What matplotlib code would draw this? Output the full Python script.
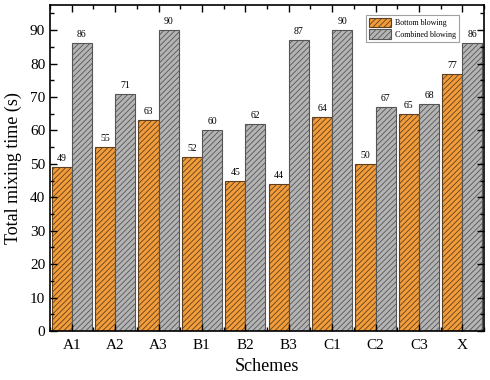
import matplotlib
matplotlib.use("Agg")
import matplotlib.pyplot as plt
import numpy as np
from matplotlib.ticker import MultipleLocator

schemes = ["A1", "A2", "A3", "B1", "B2", "B3", "C1", "C2", "C3", "X"]
bottom_blowing = [49, 55, 63, 52, 45, 44, 64, 50, 65, 77]
combined_blowing = [86, 71, 90, 60, 62, 87, 90, 67, 68, 86]

plt.rcParams['font.family'] = ['Liberation Serif', 'DejaVu Serif']
plt.rcParams['hatch.linewidth'] = 0.6

fig = plt.figure(figsize=(4.9, 3.8), dpi=100)
ax = fig.add_axes([50/490, 1-331/380, 434/490, 326/380])

x = np.arange(len(schemes))
w = 0.465
ax.bar(x - w/2, bottom_blowing, w, color='#F39C3A', edgecolor='#5e4020',
       linewidth=0.8, hatch='//////', label='Bottom blowing')
ax.bar(x + w/2, combined_blowing, w, color='#B4B4B4', edgecolor='#555555',
       linewidth=0.8, hatch='//////', label='Combined blowing')

for xi, v in zip(x - w/2, bottom_blowing):
    ax.text(xi, v + 1.2, str(v), ha='center', va='bottom', fontsize=7)
for xi, v in zip(x + w/2, combined_blowing):
    ax.text(xi, v + 1.2, str(v), ha='center', va='bottom', fontsize=7)

ax.set_xlim(-0.5, 9.5)
ax.set_ylim(0, 97.5)
ax.set_xticks(x)
ax.set_xticklabels(schemes)
ax.xaxis.set_minor_locator(MultipleLocator(0.5))
ax.yaxis.set_major_locator(MultipleLocator(10))
ax.yaxis.set_minor_locator(MultipleLocator(5))
ax.tick_params(which='both', direction='in', top=True, right=True, labelsize=11)
ax.tick_params(which='major', length=5, width=1)
ax.tick_params(which='minor', length=3, width=1)
ax.tick_params(axis='x', pad=6)
for s in ax.spines.values():
    s.set_linewidth(1.2)

ax.set_xlabel('Schemes', fontsize=13, labelpad=4)
ax.set_ylabel('Total mixing time (s)', fontsize=13, labelpad=6)

leg = ax.legend(loc='upper right', bbox_to_anchor=(0.945, 0.975), fontsize=5.8,
                frameon=True, fancybox=False, edgecolor='#888888',
                handlelength=2.8, handleheight=1.5, handletextpad=0.4,
                borderpad=0.35, labelspacing=0.2, borderaxespad=0.2)
leg.get_frame().set_linewidth(0.8)

fig.savefig('out.png', dpi=100)
